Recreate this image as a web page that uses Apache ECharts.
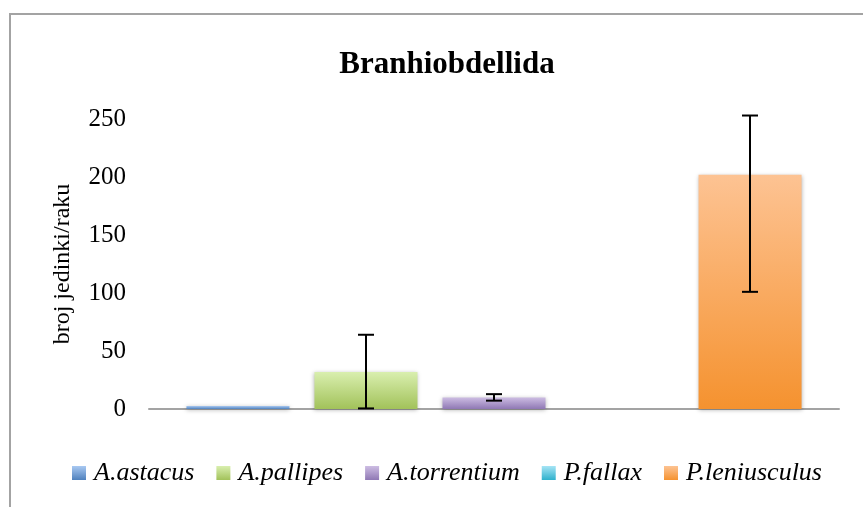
<!DOCTYPE html>
<html>
<head>
<meta charset="utf-8">
<script src="https://cdn.jsdelivr.net/npm/echarts@6/dist/echarts.min.js"></script>
<style>
    html, body { margin: 0; padding: 0; background: #fff; }
    #chart { width: 863px; height: 507px; }
</style>
</head>
<body>
<div id="chart"></div>
<script>
const species = ['A.astacus', 'A.pallipes', 'A.torrentium', 'P.fallax', 'P.leniusculus'];
const means = [2.6, 32, 10, 0, 202];
// lower and upper ends of the error bars (null = no error bar)
const errLow = [null, 0.5, 7.2, null, 101];
const errHigh = [null, 64, 12.8, null, 253];
const yTicks = [0, 50, 100, 150, 200, 250];

// top / bottom colours of each bar gradient
const colorsTop = ['#a9c9f2', '#d9efaf', '#cdbde3', '#a6e4f5', '#fdc393'];
const colorsBottom = ['#4f81bd', '#a2c25a', '#8f78b4', '#2fb1cc', '#f5922f'];

const FONT = '"Liberation Serif", "Times New Roman", serif';
const BAR_W = 103;
const BAR_STEP = 128; // bar width + gap between bars

const chart = echarts.init(document.getElementById('chart'));

const barSeries = species.map(function (name, i) {
    return {
        name: name,
        type: 'bar',
        barWidth: BAR_W,
        barGap: '24.3%',
        data: [means[i]],
        itemStyle: {
            color: new echarts.graphic.LinearGradient(0, 0, 0, 1, [
                { offset: 0, color: colorsTop[i] },
                { offset: 1, color: colorsBottom[i] }
            ]),
            shadowBlur: 4,
            shadowColor: 'rgba(0, 0, 0, 0.3)',
            shadowOffsetY: 1
        }
    }
})

// error bars, one per species, shifted to sit on its bar
const errSeries = {
    type: 'custom',
    z: 10,
    clip: false,
    silent: true,
    data: species.map(function (name, i) {
        return errLow[i] == null ? [i, 0, 0, 0] : [i, errLow[i], errHigh[i], 1]
    }),
    renderItem: function (params, api) {
        if (!api.value(3)) return null;
        const i = api.value(0);
        const off = (i - 2) * BAR_STEP;
        const bot = api.coord([0, api.value(1)]);
        const top = api.coord([0, api.value(2)]);
        const x = top[0] + off;
        const cap = 8;
        const style = { stroke: '#000', lineWidth: 2 };
        return {
            type: 'group',
            children: [
                { type: 'line', shape: { x1: x, y1: top[1], x2: x, y2: bot[1] }, style: style },
                { type: 'line', shape: { x1: x - cap, y1: top[1], x2: x + cap, y2: top[1] }, style: style },
                { type: 'line', shape: { x1: x - cap, y1: bot[1], x2: x + cap, y2: bot[1] }, style: style }
            ]
        }
    }
}

chart.setOption({
    animation: false,
    backgroundColor: '#fff',
    graphic: [{
        type: 'rect',
        shape: { x: 10, y: 14, width: 900, height: 600 },
        style: { fill: 'none', stroke: '#a3a3a3', lineWidth: 2 },
        silent: true
    }],
    title: {
        text: 'Branhiobdellida',
        left: 442,
        textAlign: 'center',
        top: 44,
        textStyle: {
            fontFamily: FONT,
            fontSize: 31,
            fontWeight: 'bold',
            color: '#000'
        }
    },
    legend: {
        data: species,
        left: 67,
        top: 455,
        itemWidth: 14,
        itemHeight: 14,
        itemGap: 22,
        icon: 'rect',
        textStyle: {
            fontFamily: FONT,
            fontStyle: 'italic',
            fontSize: 26,
            color: '#000',
            padding: [0, 0, 0, 3]
        }
    },
    grid: {
        left: 149,
        right: 24,
        top: 119,
        bottom: 98,
        containLabel: false
    },
    xAxis: {
        type: 'category',
        data: [''],
        axisLine: { lineStyle: { color: '#a3a3a3', width: 2 } },
        axisTick: { show: false },
        axisLabel: { show: false }
    },
    yAxis: {
        type: 'value',
        min: yTicks[0],
        max: yTicks[yTicks.length - 1],
        interval: 50,
        name: 'broj jedinki/raku',
        nameLocation: 'middle',
        nameRotate: 90,
        nameGap: 74,
        nameTextStyle: {
            fontFamily: FONT,
            fontSize: 24,
            color: '#000'
        },
        axisLine: { show: false },
        axisTick: { show: false },
        splitLine: { show: false },
        axisLabel: {
            margin: 23,
            fontFamily: FONT,
            fontSize: 25,
            color: '#000'
        }
    },
    series: barSeries.concat([errSeries])
})
</script>
</body>
</html>
